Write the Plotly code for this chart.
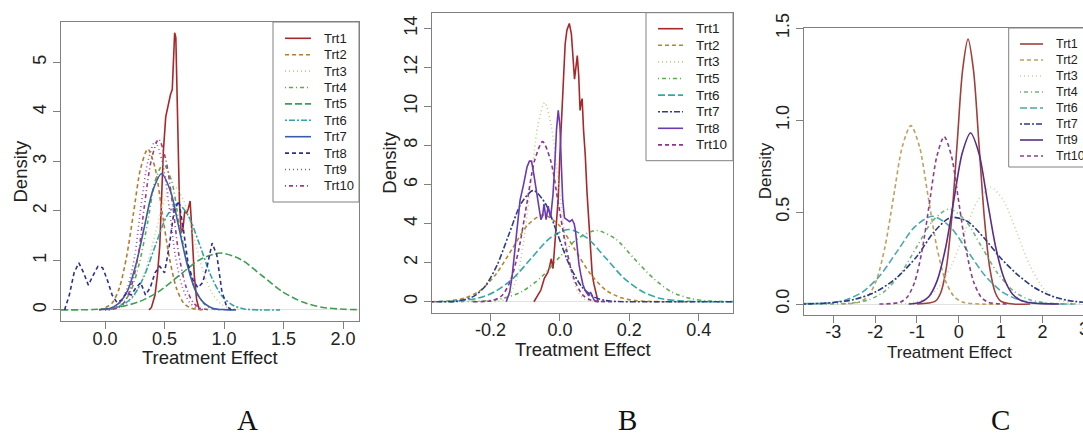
import plotly.graph_objects as go

W, H = 1083, 438

# ---------------- Panel A data ----------------
a_names = ["Trt1", "Trt2", "Trt3", "Trt4", "Trt5", "Trt6", "Trt7", "Trt8", "Trt9", "Trt10"]
a_trt1_x = [0.37, 0.39, 0.42, 0.44, 0.46, 0.475, 0.49, 0.51, 0.53, 0.55, 0.565, 0.575, 0.585, 0.595, 0.605, 0.615, 0.625, 0.64, 0.655, 0.67, 0.685, 0.70, 0.715, 0.73, 0.75, 0.77, 0.79, 0.81]
a_trt1_y = [0, 0.05, 0.3, 0.7, 1.3, 2.3, 3.2, 3.9, 4.15, 4.35, 4.45, 4.9, 5.6, 5.5, 4.5, 3.2, 2.2, 1.55, 1.65, 2.0, 1.95, 2.05, 2.2, 1.6, 0.7, 0.2, 0.03, 0]
a_trt2_x = [-0.05, 0.0, 0.06, 0.12, 0.18, 0.24, 0.30, 0.36, 0.42, 0.48, 0.54, 0.60, 0.66, 0.72, 0.78, 0.84]
a_trt2_y = [0.0, 0.04, 0.14, 0.44, 1.06, 1.97, 2.87, 3.25, 2.87, 1.97, 1.06, 0.44, 0.14, 0.04, 0.01, 0.0]
a_trt3_x = [0.02, 0.10, 0.18, 0.26, 0.34, 0.42, 0.50, 0.58, 0.66, 0.74, 0.82, 0.90, 0.98, 1.06, 1.14]
a_trt3_y = [0.0, 0.03, 0.11, 0.34, 0.81, 1.52, 2.21, 2.5, 2.21, 1.52, 0.81, 0.34, 0.11, 0.03, 0.01]
a_trt4_x = [0.0, 0.09, 0.15, 0.22, 0.29, 0.36, 0.42, 0.49, 0.56, 0.62, 0.69, 0.76, 0.83, 0.89, 0.98]
a_trt4_y = [0.0, 0.03, 0.13, 0.40, 0.96, 1.79, 2.6, 2.95, 2.6, 1.79, 0.96, 0.40, 0.13, 0.03, 0.0]
a_trt5_x = [-0.37, -0.1, 0.10, 0.28, 0.45, 0.62, 0.80, 0.97, 1.14, 1.32, 1.49, 1.66, 1.83, 2.01, 2.13]
a_trt5_y = [0.0, 0.008, 0.05, 0.16, 0.37, 0.69, 1.02, 1.15, 1.02, 0.69, 0.37, 0.16, 0.05, 0.013, 0.004]
a_trt6_x = [0.05, 0.15, 0.24, 0.33, 0.43, 0.52, 0.61, 0.70, 0.79, 0.89, 0.98, 1.07, 1.17, 1.30, 1.47]
a_trt6_y = [0.02, 0.10, 0.29, 0.69, 1.35, 1.90, 2.15, 1.90, 1.35, 0.69, 0.29, 0.10, 0.02, 0.0, 0.0]
a_trt7_x = [-0.05, 0.04, 0.11, 0.19, 0.26, 0.33, 0.40, 0.475, 0.55, 0.62, 0.69, 0.76, 0.84, 0.91, 1.0, 1.1]
a_trt7_y = [0.005, 0.03, 0.12, 0.39, 0.92, 1.67, 2.40, 2.75, 2.40, 1.67, 0.92, 0.39, 0.12, 0.03, 0.005, 0.0]
a_trt8_x = [-0.34, -0.30, -0.26, -0.22, -0.18, -0.14, -0.10, -0.06, -0.02, 0.02, 0.06, 0.10, 0.14, 0.18, 0.22, 0.26, 0.30, 0.34, 0.38, 0.42, 0.46, 0.50, 0.54, 0.58, 0.62, 0.66, 0.70, 0.74, 0.78, 0.82, 0.86, 0.90, 0.94, 0.98, 1.02, 1.06]
a_trt8_y = [0, 0.3, 0.75, 0.95, 0.75, 0.5, 0.7, 0.88, 0.85, 0.6, 0.3, 0.15, 0.2, 0.35, 0.3, 0.45, 0.55, 0.3, 0.45, 0.75, 0.88, 0.75, 1.3, 2.0, 2.2, 1.6, 0.9, 0.6, 0.45, 0.55, 0.9, 1.35, 1.1, 0.4, 0.08, 0]
a_trt9_x = [0.0, 0.075, 0.13, 0.19, 0.25, 0.30, 0.36, 0.42, 0.48, 0.54, 0.59, 0.65, 0.71, 0.77, 0.85]
a_trt9_y = [0.0, 0.04, 0.15, 0.46, 1.10, 2.06, 3.0, 3.4, 3.0, 2.06, 1.10, 0.46, 0.15, 0.04, 0.0]
a_trt10_x = [0.03, 0.105, 0.16, 0.22, 0.28, 0.33, 0.39, 0.45, 0.51, 0.57, 0.62, 0.68, 0.74, 0.80, 0.88]
a_trt10_y = [0.0, 0.04, 0.15, 0.47, 1.12, 2.09, 3.04, 3.45, 3.04, 2.09, 1.12, 0.47, 0.15, 0.04, 0.0]

# ---------------- Panel B data ----------------
b_names = ["Trt1", "Trt2", "Trt3", "Trt5", "Trt6", "Trt7", "Trt8", "Trt10"]
b_trt1_x = [-0.075, -0.065, -0.055, -0.045, -0.035, -0.03, -0.025, -0.02, -0.015, -0.01, -0.005, 0.0, 0.005, 0.01, 0.015, 0.02, 0.027, 0.033, 0.038, 0.042, 0.046, 0.050, 0.054, 0.058, 0.061, 0.064, 0.068, 0.073, 0.078, 0.083, 0.088, 0.093, 0.098, 0.104, 0.11]
b_trt1_y = [0, 0.3, 0.6, 1.2, 1.5, 1.8, 2.2, 1.7, 2.9, 3.8, 5.3, 7.6, 9.6, 11.5, 13.2, 13.9, 14.25, 13.7, 12.3, 11.4, 12.0, 12.6, 11.6, 9.8, 10.2, 10.4, 8.8, 7.5, 5.6, 4.2, 2.6, 1.4, 0.9, 0.4, 0]
b_trt2_x = [-0.369, -0.32, -0.273, -0.228, -0.183, -0.138, -0.093, -0.048, -0.003, 0.042, 0.087, 0.132, 0.177, 0.222, 0.27, 0.32, 0.38]
b_trt2_y = [0.0, 0.05, 0.2, 0.6, 1.45, 2.7, 3.93, 4.45, 3.93, 2.7, 1.45, 0.6, 0.2, 0.05, 0.01, 0.0, 0.0]
b_trt3_x = [-0.2, -0.18, -0.161, -0.142, -0.122, -0.103, -0.083, -0.064, -0.044, -0.025, -0.005, 0.015, 0.034, 0.054, 0.073, 0.092, 0.11]
b_trt3_y = [0.0, 0.02, 0.11, 0.45, 1.38, 3.3, 6.19, 9.0, 10.2, 9.0, 6.19, 3.3, 1.38, 0.45, 0.11, 0.02, 0.0]
b_trt5_x = [-0.33, -0.28, -0.222, -0.163, -0.109, -0.054, 0.0, 0.05, 0.105, 0.16, 0.214, 0.27, 0.323, 0.38, 0.43, 0.499]
b_trt5_y = [0.0, 0.01, 0.04, 0.18, 0.53, 1.26, 2.31, 3.22, 3.65, 3.22, 2.21, 1.19, 0.49, 0.15, 0.04, 0.01]
b_trt6_x = [-0.35, -0.296, -0.24, -0.189, -0.135, -0.082, -0.028, 0.025, 0.078, 0.132, 0.185, 0.24, 0.29, 0.35, 0.40, 0.499]
b_trt6_y = [0.01, 0.04, 0.17, 0.5, 1.2, 2.24, 3.27, 3.7, 3.27, 2.24, 1.2, 0.5, 0.17, 0.04, 0.01, 0.0]
b_trt7_x = [-0.369, -0.30, -0.252, -0.217, -0.182, -0.147, -0.112, -0.077, -0.042, -0.007, 0.028, 0.063, 0.098, 0.133, 0.17, 0.25, 0.35, 0.499]
b_trt7_y = [0.0, 0.03, 0.25, 0.77, 1.85, 3.46, 5.03, 5.7, 5.03, 3.46, 1.85, 0.77, 0.25, 0.06, 0.01, 0.0, 0.0, 0.0]
b_trt8_x = [-0.155, -0.145, -0.138, -0.13, -0.124, -0.115, -0.105, -0.095, -0.088, -0.082, -0.076, -0.071, -0.066, -0.061, -0.055, -0.050, -0.046, -0.040, -0.034, -0.027, -0.020, -0.015, -0.010, -0.005, 0.0, 0.004, 0.008, 0.013, 0.021, 0.028, 0.035, 0.041, 0.045, 0.050, 0.055, 0.060, 0.066, 0.072, 0.078, 0.083, 0.088, 0.093, 0.098, 0.104, 0.112]
b_trt8_y = [0, 0.5, 1.3, 2.6, 3.85, 5.2, 6.0, 6.9, 7.2, 7.2, 6.6, 6.0, 5.3, 4.8, 4.2, 4.4, 5.0, 4.2, 4.9, 4.3, 5.5, 7.0, 8.8, 9.8, 9.0, 7.0, 5.2, 4.3, 4.2, 4.1, 4.2, 4.0, 3.6, 2.6, 1.9, 1.4, 0.9, 0.6, 0.4, 0.3, 0.5, 0.3, 0.1, 0.02, 0]
b_trt10_x = [-0.25, -0.211, -0.188, -0.165, -0.142, -0.119, -0.096, -0.073, -0.05, -0.027, -0.004, 0.019, 0.042, 0.065, 0.088, 0.111, 0.15]
b_trt10_y = [0.0, 0.02, 0.09, 0.36, 1.11, 2.66, 4.97, 7.24, 8.2, 7.24, 4.97, 2.66, 1.11, 0.36, 0.09, 0.02, 0.0]

# ---------------- Panel C data ----------------
c_names = ["Trt1", "Trt2", "Trt3", "Trt4", "Trt6", "Trt7", "Trt9", "Trt10"]
c_trt1_x = [-1.0, -0.56, -0.43, -0.30, -0.17, -0.04, 0.09, 0.22, 0.35, 0.48, 0.61, 0.74, 0.87, 1.0, 1.3, 1.7]
c_trt1_y = [0.0, 0.016, 0.063, 0.195, 0.468, 0.873, 1.271, 1.44, 1.271, 0.873, 0.468, 0.195, 0.063, 0.016, 0.0, 0.0]
c_trt2_x = [-2.79, -2.376, -2.171, -1.966, -1.761, -1.556, -1.351, -1.146, -0.941, -0.736, -0.531, -0.326, -0.121, 0.084, 0.5, 1.0]
c_trt2_y = [0.0, 0.011, 0.043, 0.131, 0.315, 0.588, 0.856, 0.97, 0.856, 0.588, 0.315, 0.131, 0.043, 0.011, 0.0, 0.0]
c_trt3_x = [-1.76, -1.445, -1.13, -0.815, -0.5, -0.185, 0.13, 0.445, 0.76, 1.075, 1.39, 1.705, 2.02, 2.335, 2.65, 2.966]
c_trt3_y = [0.0, 0.001, 0.007, 0.028, 0.086, 0.206, 0.385, 0.56, 0.634, 0.56, 0.385, 0.206, 0.086, 0.028, 0.007, 0.001]
c_trt4_x = [-3.7, -3.31, -2.925, -2.54, -2.155, -1.77, -1.385, -1.0, -0.615, -0.23, 0.155, 0.54, 0.925, 1.31, 1.695, 2.08, 2.465, 2.85]
c_trt4_y = [0.0, 0.0002, 0.001, 0.006, 0.023, 0.07, 0.168, 0.313, 0.455, 0.516, 0.455, 0.313, 0.168, 0.07, 0.023, 0.006, 0.001, 0.0]
c_trt6_x = [-3.7, -3.138, -2.72, -2.302, -1.884, -1.466, -1.048, -0.63, -0.212, 0.206, 0.624, 1.042, 1.46, 1.878, 2.296, 2.714]
c_trt6_y = [0.002, 0.005, 0.021, 0.065, 0.155, 0.289, 0.421, 0.477, 0.421, 0.289, 0.155, 0.065, 0.021, 0.005, 0.001, 0.0]
c_trt7_x = [-3.7, -3.0, -2.5, -2.0, -1.5, -1.0, -0.6, -0.2, 0.2, 0.6, 1.0, 1.4, 1.8, 2.2, 2.6, 2.966]
c_trt7_y = [0.0, 0.008, 0.025, 0.065, 0.14, 0.26, 0.39, 0.47, 0.45, 0.36, 0.25, 0.16, 0.09, 0.045, 0.02, 0.01]
c_trt9_x = [-1.2, -0.92, -0.72, -0.52, -0.32, -0.12, 0.08, 0.28, 0.48, 0.68, 0.88, 1.08, 1.28, 1.48, 1.7, 2.0, 2.4]
c_trt9_y = [0.0, 0.01, 0.04, 0.126, 0.302, 0.564, 0.82, 0.93, 0.82, 0.564, 0.31, 0.14, 0.055, 0.02, 0.007, 0.002, 0.0]
c_trt10_x = [-1.9, -1.4, -1.225, -1.05, -0.875, -0.7, -0.525, -0.35, -0.175, 0.0, 0.175, 0.35, 0.525, 0.7, 1.2]
c_trt10_y = [0.0, 0.01, 0.04, 0.123, 0.295, 0.552, 0.803, 0.91, 0.803, 0.552, 0.295, 0.123, 0.04, 0.01, 0.0]

# tick labels
a_xticks = [0.0, 0.5, 1.0, 1.5, 2.0]
a_yticks = [0, 1, 2, 3, 4, 5]
b_xticks = [-0.2, 0.0, 0.2, 0.4]
b_yticks = [0, 2, 4, 6, 8, 10, 12, 14]
c_xticks = [-3, -2, -1, 0, 1, 2]
c_yticks = [0.0, 0.5, 1.0, 1.5]

# ---------------- styles ----------------
DASH = {
    "solid": "solid",
    "dashed": "4px,3px",
    "dotted": "1px,3px",
    "dotdash": "1px,3px,4px,3px",
    "longdash": "7px,3px",
    "twodash": "2px,2px,6px,2px",
}

panels = [
    dict(
        label="A", names=a_names,
        xs=[a_trt1_x, a_trt2_x, a_trt3_x, a_trt4_x, a_trt5_x, a_trt6_x, a_trt7_x, a_trt8_x, a_trt9_x, a_trt10_x],
        ys=[a_trt1_y, a_trt2_y, a_trt3_y, a_trt4_y, a_trt5_y, a_trt6_y, a_trt7_y, a_trt8_y, a_trt9_y, a_trt10_y],
        colors=["#A8282A", "#B87B2E", "#BFCF8A", "#5AAE4E", "#3E9E55", "#33A3A8", "#3A5BA8", "#2E2E95", "#8E50A8", "#A33C7E"],
        dashes=["solid", "dashed", "dotted", "dotdash", "longdash", "twodash", "solid", "dashed", "dotted", "dotdash"],
        shapes=["linear", "spline", "spline", "spline", "spline", "spline", "spline", "linear", "spline", "spline"],
        box=(61, 359, 22, 321), xr=[-0.37, 2.134], yr=[-0.224, 5.816],
        xticks=a_xticks, xfmt="{:.1f}", yticks=a_yticks, yfmt="{:d}",
        leg=dict(x0=273, x1=359, y0=22, y1=202, row0=38.3, dy=16.4, s0=285, s1=311, tx=322, fs=13),
        title_x=210, title_y=357, title_fs=18.5, dens_x=20, lab_x=247,
    ),
    dict(
        label="B", names=b_names,
        xs=[b_trt1_x, b_trt2_x, b_trt3_x, b_trt5_x, b_trt6_x, b_trt7_x, b_trt8_x, b_trt10_x],
        ys=[b_trt1_y, b_trt2_y, b_trt3_y, b_trt5_y, b_trt6_y, b_trt7_y, b_trt8_y, b_trt10_y],
        colors=["#A8282A", "#B8862E", "#BFCF8A", "#5AAE4E", "#33A8A8", "#2B3F91", "#6A3AB2", "#8E3390"],
        dashes=["solid", "dashed", "dotted", "dotdash", "longdash", "twodash", "solid", "dashed"],
        shapes=["linear", "spline", "spline", "spline", "spline", "spline", "linear", "spline"],
        box=(432, 733, 12.7, 312.7), xr=[-0.369, 0.499], yr=[-0.56, 14.8],
        xticks=b_xticks, xfmt="{:.1f}", yticks=b_yticks, yfmt="{:d}",
        leg=dict(x0=646, x1=733, y0=12.7, y1=160.7, row0=28.7, dy=16.6, s0=658, s1=683, tx=694, fs=13.5),
        title_x=582.5, title_y=349, title_fs=18.5, dens_x=390, lab_x=627,
    ),
    dict(
        label="C", names=c_names,
        xs=[c_trt1_x, c_trt2_x, c_trt3_x, c_trt4_x, c_trt6_x, c_trt7_x, c_trt9_x, c_trt10_x],
        ys=[c_trt1_y, c_trt2_y, c_trt3_y, c_trt4_y, c_trt6_y, c_trt7_y, c_trt9_y, c_trt10_y],
        colors=["#A0403C", "#BFA060", "#C8CFA0", "#6DB57A", "#4AA8AE", "#2B3A80", "#5A2D86", "#8A3F8A"],
        dashes=["solid", "dashed", "dotted", "dotdash", "longdash", "twodash", "solid", "dashed"],
        shapes=["spline"] * 8,
        box=(804, 1083, 28, 314.7), xr=[-3.70, 2.967], yr=[-0.058, 1.5005],
        xticks=c_xticks, xfmt="{:d}", yticks=c_yticks, yfmt="{:.1f}",
        leg=dict(x0=1008.7, x1=1100, y0=28, y1=167, row0=44, dy=16, s0=1020, s1=1043, tx=1054, fs=12.5),
        title_x=949, title_y=352, title_fs=17, dens_x=765, lab_x=1001,
    ),
]

FONT = "Liberation Sans, Arial, Helvetica, sans-serif"
AX_COL = "#808080"
TICK_FS = 18


def px(xp):
    return xp / W


def py(yp):
    return 1 - yp / H


fig = go.Figure()
layout = dict(
    template="none",
    width=W, height=H, autosize=False,
    margin=dict(l=0, r=0, t=0, b=0, pad=0),
    paper_bgcolor="white", plot_bgcolor="white",
    showlegend=False,
    font=dict(family=FONT, color="#222222"),
)
shapes = []
annotations = []

for i, p in enumerate(panels):
    n = "" if i == 0 else str(i + 1)
    xa, ya = "x" + n, "y" + n
    left, right, top, bottom = p["box"]
    for name, xv, yv, col, dsh, shp in zip(p["names"], p["xs"], p["ys"], p["colors"], p["dashes"], p["shapes"]):
        line = dict(color=col, width=1.6, dash=DASH[dsh], shape=shp)
        if shp == "spline":
            line["smoothing"] = 0.8
        fig.add_trace(go.Scatter(x=xv, y=yv, mode="lines", name=name, line=line,
                                 xaxis=xa, yaxis=ya, hoverinfo="skip"))
    layout["xaxis" + n] = dict(
        domain=[px(left), min(px(right), 1.0)], anchor=ya, range=p["xr"],
        automargin=False,
        showgrid=False, zeroline=False, showline=True, mirror=True,
        linecolor=AX_COL, linewidth=1,
        ticks="outside", ticklen=7, tickcolor=AX_COL, tickwidth=1,
        ticklabelstandoff=-6,
        tickvals=p["xticks"], ticktext=[p["xfmt"].format(v) for v in p["xticks"]],
        tickfont=dict(size=TICK_FS, family=FONT, color="#222222"),
    )
    layout["yaxis" + n] = dict(
        domain=[py(bottom), py(top)], anchor=xa, range=p["yr"],
        automargin=False,
        showgrid=False, zeroline=True, zerolinecolor="#E2E2E2", zerolinewidth=1,
        showline=True, mirror=(i != 2),
        linecolor=AX_COL, linewidth=1,
        ticks="outside", ticklen=7, tickcolor=AX_COL, tickwidth=1,
        tickvals=p["yticks"], ticktext=[p["yfmt"].format(v) for v in p["yticks"]],
        tickangle=-90,
        tickfont=dict(size=TICK_FS, family=FONT, color="#222222"),
    )
    if i == 2:
        # the "3" tick label sits just past the visible page edge (partially shown)
        x0d, x1d = layout["xaxis" + n]["domain"]
        r0, r1 = p["xr"]
        tx = (x0d + (3 - r0) / (r1 - r0) * (x1d - x0d))
        annotations.append(dict(x=tx, y=py(bottom + 14), xref="paper", yref="paper",
                                text="3", showarrow=False, xanchor="center", yanchor="middle",
                                font=dict(size=TICK_FS, family=FONT, color="#222222")))
    # axis titles
    annotations.append(dict(x=px(p["title_x"]), y=py(p["title_y"]), xref="paper", yref="paper",
                            text="Treatment Effect", showarrow=False, xanchor="center", yanchor="middle",
                            font=dict(size=p["title_fs"], family=FONT, color="#222222")))
    annotations.append(dict(x=px(p["dens_x"]), y=py((top + bottom) / 2), xref="paper", yref="paper",
                            text="Density", textangle=-90, showarrow=False,
                            xanchor="center", yanchor="middle",
                            font=dict(size=p["title_fs"], family=FONT, color="#222222")))
    annotations.append(dict(x=px(p["lab_x"]), y=0.0, xref="paper", yref="paper",
                            text=p["label"], showarrow=False, xanchor="center", yanchor="bottom",
                            font=dict(size=29, family="Liberation Serif, Times New Roman, serif", color="#111111")))
    # legend box
    lg = p["leg"]
    shapes.append(dict(type="rect", xref="paper", yref="paper",
                       x0=px(lg["x0"]), x1=px(lg["x1"]), y0=py(lg["y1"]), y1=py(lg["y0"]),
                       line=dict(color=AX_COL, width=1), fillcolor="white", layer="above"))
    for k, (name, col, dsh) in enumerate(zip(p["names"], p["colors"], p["dashes"])):
        yy = lg["row0"] + k * lg["dy"]
        shapes.append(dict(type="line", xref="paper", yref="paper",
                           x0=px(lg["s0"]), x1=px(lg["s1"]), y0=py(yy), y1=py(yy),
                           line=dict(color=col, width=1.6, dash=DASH[dsh]), layer="above"))
        annotations.append(dict(x=px(lg["tx"]), y=py(yy), xref="paper", yref="paper",
                                text=name, showarrow=False, xanchor="left", yanchor="middle",
                                font=dict(size=lg["fs"], family=FONT, color="#222222")))

layout["shapes"] = shapes
layout["annotations"] = annotations
fig.update_layout(**layout)
fig.write_html("out.html")
